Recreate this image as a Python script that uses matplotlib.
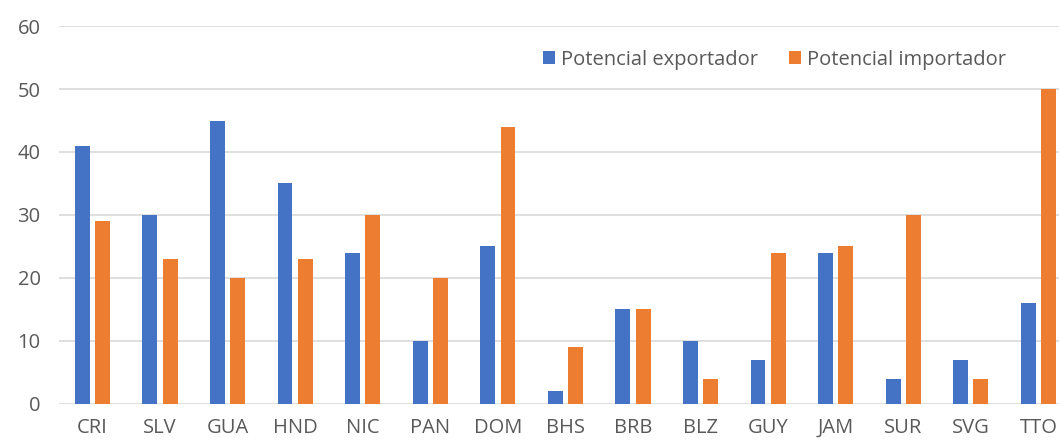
import matplotlib.pyplot as plt
import numpy as np

# country codes and the two indicators
countries = ['CRI', 'SLV', 'GUA', 'HND', 'NIC', 'PAN', 'DOM', 'BHS',
             'BRB', 'BLZ', 'GUY', 'JAM', 'SUR', 'SVG', 'TTO']
exportador = [41, 30, 45, 35, 24, 10, 25, 2, 15, 10, 7, 24, 4, 7, 16]
importador = [29, 23, 20, 23, 30, 20, 44, 9, 15, 4, 24, 25, 30, 4, 50]

plt.rcParams['font.family'] = ['Open Sans', 'DejaVu Sans']

fig = plt.figure(figsize=(10.59, 4.41), dpi=100)
ax = fig.add_axes([0.0554, 0.084, 0.957, 0.857])

x = np.arange(len(countries))
width = 0.22
ax.bar(x - 0.15, exportador, width, color='#4472C4', label='Potencial exportador', zorder=3)
ax.bar(x + 0.15, importador, width, color='#ED7D31', label='Potencial importador', zorder=3)

ax.set_xlim(-0.5, len(countries) - 0.5)
ax.set_ylim(0, 60)
ax.set_yticks(range(0, 61, 10))
ax.set_xticks(x)
ax.set_xticklabels(countries)

# light horizontal grid only
ax.grid(axis='y', color='#D9D9D9', linewidth=1.2, zorder=0)
for s in ['top', 'right', 'left', 'bottom']:
    ax.spines[s].set_visible(False)
ax.tick_params(axis='both', length=0, labelsize=14.5, colors='#595959')
ax.tick_params(axis='y', pad=13)
ax.tick_params(axis='x', pad=10)

ax.legend(loc='upper right', bbox_to_anchor=(0.953, 0.985), ncol=2, frameon=False,
          fontsize=14.5, labelcolor='#595959', handlelength=0.6, handleheight=0.6,
          handletextpad=0.3, columnspacing=1.55)

fig.savefig('out.png', dpi=100)
